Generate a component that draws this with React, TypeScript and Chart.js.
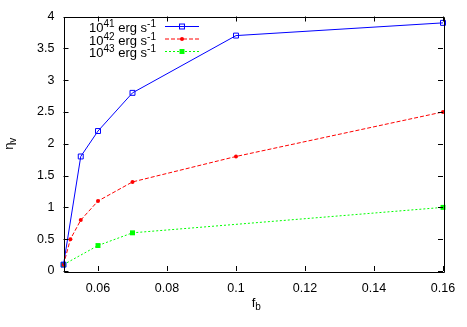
import React, { useEffect, useRef } from "react";
import { Chart, registerables } from "chart.js";

Chart.register(...registerables);

const fb41 = [0.05, 0.055, 0.06, 0.07, 0.1, 0.16];
const eta41 = [0.1, 1.8, 2.2, 2.8, 3.7, 3.9];
const fb42 = [0.05, 0.052, 0.055, 0.06, 0.07, 0.1, 0.16];
const eta42 = [0.1, 0.5, 0.8, 1.1, 1.4, 1.8, 2.5];
const fb43 = [0.05, 0.06, 0.07, 0.16];
const eta43 = [0.1, 0.4, 0.6, 1.0];

const xTicks = [0.06, 0.08, 0.1, 0.12, 0.14, 0.16];
const yTicks = [0, 0.5, 1, 1.5, 2, 2.5, 3, 3.5, 4];
const seriesLabels = ["41", "42", "43"];

const FONT = "Liberation Sans, Arial, Helvetica, sans-serif";
const MAIN = 13;
const SUB = 10;

const frameAndText = {
  id: "frameAndText",
  afterDatasetsDraw(chart: any) {
    const { ctx, chartArea: a, scales } = chart;
    const xs = scales.x;
    const ys = scales.y;
    ctx.save();
    // border
    ctx.strokeStyle = "#000";
    ctx.lineWidth = 1;
    ctx.beginPath();
    ctx.rect(Math.round(a.left) + 0.5, Math.round(a.top) + 0.5, Math.round(a.right - a.left), Math.round(a.bottom - a.top));
    ctx.stroke();
    // inward ticks
    const tl = 5;
    ctx.beginPath();
    xs.ticks.forEach((t: any) => {
      const px = Math.round(xs.getPixelForValue(t.value)) + 0.5;
      ctx.moveTo(px, a.bottom);
      ctx.lineTo(px, a.bottom - tl);
      ctx.moveTo(px, a.top);
      ctx.lineTo(px, a.top + tl);
    });
    ys.ticks.forEach((t: any) => {
      const py = Math.round(ys.getPixelForValue(t.value)) + 0.5;
      ctx.moveTo(a.left, py);
      ctx.lineTo(a.left + tl, py);
      ctx.moveTo(a.right, py);
      ctx.lineTo(a.right - tl, py);
    });
    ctx.stroke();

    ctx.fillStyle = "#000";
    // x title f_b
    ctx.textBaseline = "alphabetic";
    ctx.textAlign = "left";
    ctx.font = `${MAIN}px ${FONT}`;
    const fw = ctx.measureText("f").width;
    ctx.font = `${SUB}px ${FONT}`;
    const bw = ctx.measureText("b").width;
    const cx = (a.left + a.right) / 2 + 3;
    const sx = cx - (fw + bw) / 2;
    ctx.font = `${MAIN}px ${FONT}`;
    ctx.fillText("f", sx, 307);
    ctx.font = `${SUB}px ${FONT}`;
    ctx.fillText("b", sx + fw, 310);

    // y title eta_v
    ctx.save();
    ctx.translate(13, (a.top + a.bottom) / 2);
    ctx.rotate(-Math.PI / 2);
    ctx.font = `${MAIN}px ${FONT}`;
    const ew = ctx.measureText("η").width;
    ctx.font = `${SUB}px ${FONT}`;
    const vw = ctx.measureText("v").width;
    const ex = -(ew + vw) / 2;
    ctx.font = `${MAIN}px ${FONT}`;
    ctx.fillText("η", ex, 0);
    ctx.font = `${SUB}px ${FONT}`;
    ctx.fillText("v", ex + ew, 3);
    ctx.restore();

    // legend
    const rows = [26, 38.5, 51];
    chart.data.datasets.forEach((ds: any, i: number) => {
      const y = rows[i];
      const base = y + 6;
      ctx.font = `${MAIN}px ${FONT}`;
      const w10 = ctx.measureText("10").width;
      const wErg = ctx.measureText(" erg s").width;
      ctx.font = `${SUB}px ${FONT}`;
      const wExp = ctx.measureText(seriesLabels[i]).width;
      const wM1 = ctx.measureText("-1").width;
      const total = w10 + wExp + wErg + wM1;
      let x = 156 - total;
      ctx.fillStyle = "#000";
      ctx.font = `${MAIN}px ${FONT}`;
      ctx.fillText("10", x, base);
      x += w10;
      ctx.font = `${SUB}px ${FONT}`;
      ctx.fillText(seriesLabels[i], x, base - 5);
      x += wExp;
      ctx.font = `${MAIN}px ${FONT}`;
      ctx.fillText(" erg s", x, base);
      x += wErg;
      ctx.font = `${SUB}px ${FONT}`;
      ctx.fillText("-1", x, base - 5);

      ctx.strokeStyle = ds.borderColor;
      ctx.lineWidth = 1;
      ctx.setLineDash(ds.borderDash || []);
      ctx.beginPath();
      ctx.moveTo(165, y + 0.5);
      ctx.lineTo(199, y + 0.5);
      ctx.stroke();
      ctx.setLineDash([]);
      const mx = 182;
      if (ds.pointStyle === "circle") {
        ctx.fillStyle = ds.pointBackgroundColor;
        ctx.beginPath();
        ctx.arc(mx, y + 0.5, ds.pointRadius, 0, Math.PI * 2);
        ctx.fill();
      } else {
        const s = ds.pointRadius * Math.SQRT1_2;
        if (ds.pointBackgroundColor === "rgba(0,0,0,0)") {
          ctx.strokeStyle = ds.pointBorderColor;
          ctx.strokeRect(mx - s, y + 0.5 - s, 2 * s, 2 * s);
        } else {
          ctx.fillStyle = ds.pointBackgroundColor;
          ctx.fillRect(mx - s, y + 0.5 - s, 2 * s, 2 * s);
        }
      }
    });
    ctx.restore();
  },
};

export default function App() {
  const ref = useRef<HTMLCanvasElement>(null);
  useEffect(() => {
    const toPts = (xs: number[], ys: number[]) => xs.map((x, i) => ({ x, y: ys[i] }));
    const chart = new Chart(ref.current!, {
      type: "line",
      data: {
        datasets: [
          {
            label: "1e41",
            data: toPts(fb41, eta41),
            borderColor: "#0000ff",
            borderWidth: 1,
            pointStyle: "rect",
            pointRadius: 3.5,
            pointBorderWidth: 1,
            pointBorderColor: "#0000ff",
            pointBackgroundColor: "rgba(0,0,0,0)",
            tension: 0,
          },
          {
            label: "1e42",
            data: toPts(fb42, eta42),
            borderColor: "#ff0000",
            borderWidth: 1,
            borderDash: [4, 2],
            pointStyle: "circle",
            pointRadius: 2,
            pointBorderWidth: 0,
            pointBorderColor: "#ff0000",
            pointBackgroundColor: "#ff0000",
            tension: 0,
          },
          {
            label: "1e43",
            data: toPts(fb43, eta43),
            borderColor: "#00ff00",
            borderWidth: 1,
            borderDash: [2, 2],
            pointStyle: "rect",
            pointRadius: 3.5,
            pointBorderWidth: 0,
            pointBorderColor: "#00ff00",
            pointBackgroundColor: "#00ff00",
            tension: 0,
          },
        ] as any,
      },
      options: {
        animation: false,
        responsive: false,
        clip: false as any,
        layout: { padding: { top: 15, right: 24, left: 0, bottom: 0 } },
        plugins: { legend: { display: false }, tooltip: { enabled: false } },
        scales: {
          x: {
            type: "linear",
            min: 0.05,
            max: 0.16,
            grid: { display: false, drawTicks: false },
            border: { display: false },
            afterBuildTicks: (s: any) => {
              s.ticks = xTicks.map((v) => ({ value: v }));
            },
            afterFit: (s: any) => {
              s.height = 56;
            },
            ticks: {
              padding: 10,
              color: "#000",
              font: { family: FONT, size: 12.5 },
              maxRotation: 0,
              autoSkip: false,
              callback: (v: any) => String(+Number(v).toFixed(2)),
            },
          },
          y: {
            type: "linear",
            min: 0,
            max: 4,
            grid: { display: false, drawTicks: false },
            border: { display: false },
            afterBuildTicks: (s: any) => {
              s.ticks = yTicks.map((v) => ({ value: v }));
            },
            afterFit: (s: any) => {
              s.width = 63.5;
            },
            ticks: {
              padding: 9,
              color: "#000",
              font: { family: FONT, size: 12.5 },
              autoSkip: false,
              callback: (v: any) => String(+Number(v).toFixed(2)),
            },
          },
        },
      },
      plugins: [frameAndText],
    });
    return () => chart.destroy();
  }, []);
  return (
    <div style={{ position: "fixed", left: 0, top: 0, width: 467, height: 327, background: "#fff" }}>
      <canvas ref={ref} width={467} height={327} style={{ width: 467, height: 327 }} />
    </div>
  );
}
